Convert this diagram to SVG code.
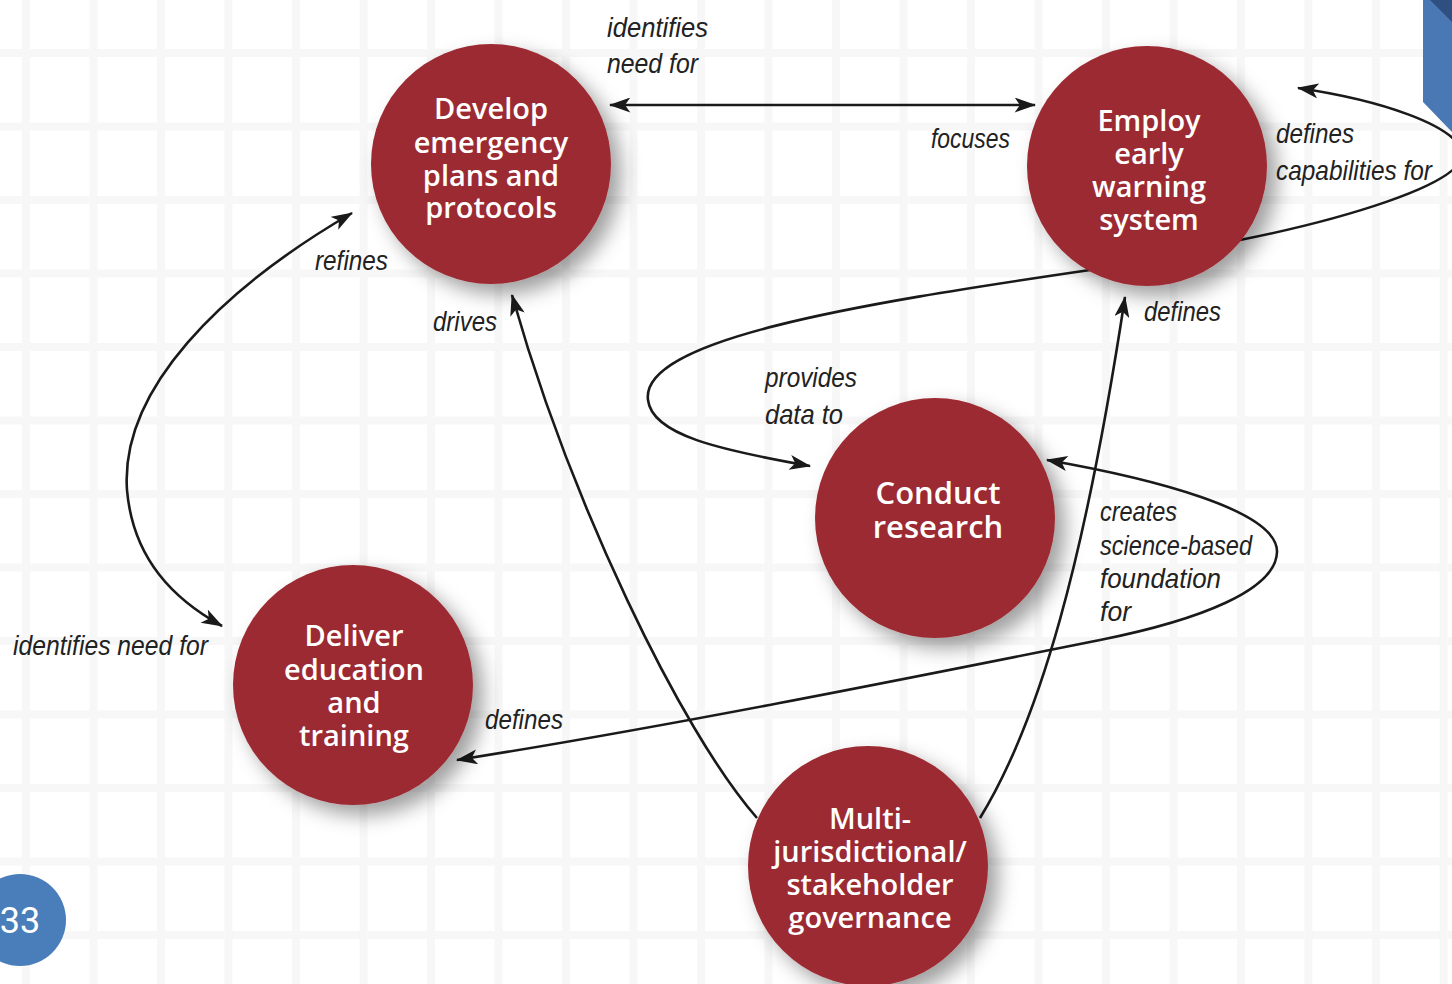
<svg xmlns="http://www.w3.org/2000/svg" width="1452" height="984" viewBox="0 0 1452 984">
<defs>
<style>
.node{fill:#9c2a32;}
.nt{font-family:"Open Sans","Liberation Sans",sans-serif;font-weight:600;font-size:29px;fill:#ffffff;text-anchor:middle;}
.lbl{font-family:"Liberation Sans",Arial,sans-serif;font-style:italic;font-size:28px;fill:#222222;}
.con{fill:none;stroke:#1a1a1a;stroke-width:2.6;}
</style>
<pattern id="grid" x="22" y="49" width="67.5" height="73.5" patternUnits="userSpaceOnUse">
<rect x="0" y="0" width="8" height="73.5" fill="#f7f7f7"/>
<rect x="0" y="0" width="67.5" height="8" fill="#f7f7f7"/>
</pattern>
<filter id="sh" x="-30%" y="-30%" width="170%" height="170%">
<feDropShadow dx="10" dy="10" stdDeviation="10" flood-color="#000" flood-opacity="0.38"/>
</filter>
<marker id="ah" viewBox="0 0 20 14" refX="19" refY="7" markerWidth="22" markerHeight="15" markerUnits="userSpaceOnUse" orient="auto-start-reverse">
<path d="M0,0 L20,7 L0,14 L5,7 Z" fill="#1a1a1a"/>
</marker>
</defs>
<rect width="1452" height="984" fill="#ffffff"/>
<rect width="1452" height="984" fill="url(#grid)"/>
<g id="corner">
<polygon points="1423,0 1452,0 1452,132 1423,102" fill="#4a78b5"/>
<polygon points="1430,0 1452,0 1452,22" fill="#2e4f80"/>
</g>
<g id="connectors">
<path class="con" d="M610,105 L1035,105" marker-start="url(#ah)" marker-end="url(#ah)"/>
<path class="con" d="M352,213 C220,290 120,390 127,490 C133,560 175,600 222,626" marker-start="url(#ah)" marker-end="url(#ah)"/>
<path class="con" d="M757,818 C680,730 570,500 512,295" marker-end="url(#ah)"/>
<path class="con" d="M980,818 C1040,720 1085,560 1125,297" marker-end="url(#ah)"/>
<path class="con" d="M1240,240 C1330,222 1468,185 1462,152 C1455,125 1380,100 1298,88" marker-end="url(#ah)"/>
<path class="con" d="M1240,240 C1180,252 1130,262 1090,270 C850,305 640,340 648,400 C652,435 720,450 810,466" marker-end="url(#ah)"/>
<path class="con" d="M1100,640 C1200,620 1276,590 1277,552 C1278,510 1150,478 1047,460" marker-end="url(#ah)"/>
<path class="con" d="M1100,640 C900,680 660,728 457,760" marker-end="url(#ah)"/>
</g>
<g id="labels">
<text class="lbl" x="607" y="37" textLength="101" lengthAdjust="spacingAndGlyphs">identifies</text>
<text class="lbl" x="607" y="73" textLength="91" lengthAdjust="spacingAndGlyphs">need for</text>
<text class="lbl" x="931" y="148" textLength="79" lengthAdjust="spacingAndGlyphs">focuses</text>
<text class="lbl" x="1276" y="143" textLength="78" lengthAdjust="spacingAndGlyphs">defines</text>
<text class="lbl" x="1276" y="180" textLength="156" lengthAdjust="spacingAndGlyphs">capabilities for</text>
<text class="lbl" x="315" y="270" textLength="73" lengthAdjust="spacingAndGlyphs">refines</text>
<text class="lbl" x="433" y="331" textLength="64" lengthAdjust="spacingAndGlyphs">drives</text>
<text class="lbl" x="1144" y="321" textLength="77" lengthAdjust="spacingAndGlyphs">defines</text>
<text class="lbl" x="765" y="387" textLength="92" lengthAdjust="spacingAndGlyphs">provides</text>
<text class="lbl" x="765" y="424" textLength="78" lengthAdjust="spacingAndGlyphs">data to</text>
<text class="lbl" x="1100" y="521" textLength="77" lengthAdjust="spacingAndGlyphs">creates</text>
<text class="lbl" x="1100" y="555" textLength="152" lengthAdjust="spacingAndGlyphs">science-based</text>
<text class="lbl" x="1100" y="588" textLength="121" lengthAdjust="spacingAndGlyphs">foundation</text>
<text class="lbl" x="1100" y="621" textLength="31" lengthAdjust="spacingAndGlyphs">for</text>
<text class="lbl" x="13" y="655" textLength="195" lengthAdjust="spacingAndGlyphs">identifies need for</text>
<text class="lbl" x="485" y="729" textLength="78" lengthAdjust="spacingAndGlyphs">defines</text>
</g>
<g id="node-develop">
<circle class="node" cx="491" cy="164" r="120" filter="url(#sh)"/>
<text class="nt" x="491" y="119">Develop</text>
<text class="nt" x="491" y="153">emergency</text>
<text class="nt" x="491" y="186">plans and</text>
<text class="nt" x="491" y="218">protocols</text>
</g>
<g id="node-employ">
<circle class="node" cx="1147" cy="166" r="120" filter="url(#sh)"/>
<text class="nt" x="1149" y="131">Employ</text>
<text class="nt" x="1149" y="164">early</text>
<text class="nt" x="1149" y="197">warning</text>
<text class="nt" x="1149" y="230">system</text>
</g>
<g id="node-conduct">
<circle class="node" cx="935" cy="518" r="120" filter="url(#sh)"/>
<text class="nt" x="938" y="504" style="font-size:31px">Conduct</text>
<text class="nt" x="938" y="538" style="font-size:31px">research</text>
</g>
<g id="node-deliver">
<circle class="node" cx="353" cy="685" r="120" filter="url(#sh)"/>
<text class="nt" x="354" y="646">Deliver</text>
<text class="nt" x="354" y="680">education</text>
<text class="nt" x="354" y="713">and</text>
<text class="nt" x="354" y="746">training</text>
</g>
<g id="node-multi">
<circle class="node" cx="868" cy="866" r="120" filter="url(#sh)"/>
<text class="nt" x="870" y="829">Multi-</text>
<text class="nt" x="870" y="862">jurisdictional/</text>
<text class="nt" x="870" y="895">stakeholder</text>
<text class="nt" x="870" y="928">governance</text>
</g>
<g id="page-badge">
<circle cx="20" cy="920" r="46" fill="#4a7ebb"/>
<text x="20" y="933" font-family="Roboto,'Liberation Sans',sans-serif" font-size="36" fill="#ffffff" text-anchor="middle">33</text>
</g>
</svg>
